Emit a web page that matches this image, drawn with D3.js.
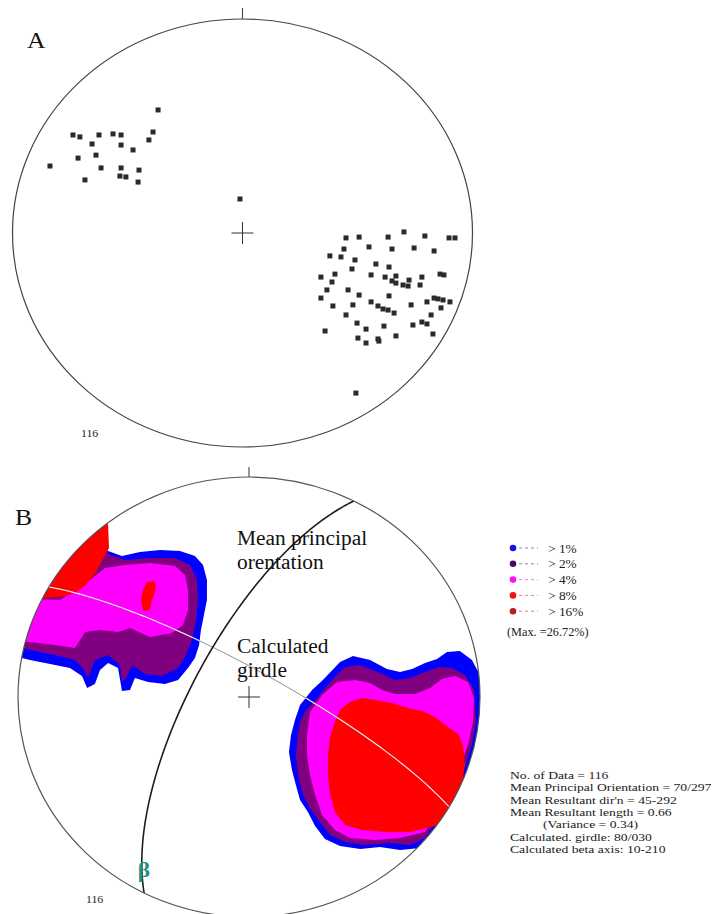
<!DOCTYPE html>
<html>
<head>
<meta charset="utf-8">
<script src="https://cdn.jsdelivr.net/npm/d3@7"></script>
<style>
  body { margin: 0; background: #fff; }
  svg { display: block; }
</style>
</head>
<body>
<script>
// ---------- Data ----------
// Poles on the upper net, in net units (east, north), net radius = 100
const poles = [
  [-36.7,57.5],[-73.7,45.8],[-70.7,44.9],[-62.4,45.8],[-56.3,46.3],[-52.8,45.8],[-38.9,47.2],
  [-40.7,43.5],[-65.4,41.6],[-52.8,41.1],[-47.6,38.8],[-71.5,35.0],[-63.7,36.4],[-83.7,31.3],
  [-61.5,30.4],[-52.8,30.4],[-45.0,29.4],[-53.3,26.6],[-50.7,26.2],[-68.5,24.8],[-45.4,23.8],
  [-1.1,15.9],[49.3,-74.8],
  [45.0,-2.3],[50.7,-1.9],[63.3,-1.9],[70.2,0.5],[79.3,-1.4],[89.8,-2.3],[92.4,-2.3],
  [44.1,-7.5],[55.0,-6.5],[65.0,-7.5],[74.6,-7.0],[83.3,-8.4],[38.0,-10.7],[42.8,-11.2],
  [48.9,-12.6],[58.0,-14.5],[47.6,-16.8],[63.7,-15.9],[40.2,-19.2],[55.9,-19.6],[62.0,-20.6],
  [66.7,-20.1],[78.0,-20.6],[85.9,-19.2],[87.6,-19.6],[34.1,-20.6],[38.9,-22.9],[65.0,-22.4],
  [66.7,-23.4],[72.4,-22.0],[69.8,-24.3],[72.0,-24.8],[77.2,-24.3],[36.7,-26.6],[45.9,-26.6],
  [50.7,-29.0],[63.7,-29.4],[34.1,-30.4],[55.9,-32.2],[58.9,-34.1],[61.1,-35.5],[63.3,-36.0],
  [65.9,-37.4],[48.0,-33.6],[39.3,-34.1],[73.3,-33.6],[80.2,-32.2],[83.3,-30.4],[85.0,-30.8],
  [87.2,-31.3],[90.2,-32.2],[86.3,-35.0],[45.0,-38.3],[82.0,-38.3],[49.8,-42.1],[78.0,-41.6],
  [80.2,-42.5],[74.1,-43.0],[61.5,-43.5],[53.7,-44.9],[35.9,-45.8],[82.8,-47.2],[66.7,-48.1],
  [50.2,-49.1],[58.9,-49.5],[59.3,-50.5],[53.7,-51.4]
];
const dataCount = 116;

// Density contour outlines on the lower net (net units), one list of rings per level
const over1Left = [[-64.5,80.5],[-61,66.4],[-55,64.1],[-47.2,65.9],[-38.5,66.8],[-29.9,66.4],[-23.4,64.1],[-19.9,60],[-18.2,53.2],[-18.2,44.1],[-19.5,37.3],[-20.8,30.5],[-21.6,23.6],[-23.4,17.7],[-26.4,13.2],[-30.7,7.7],[-36.4,5.9],[-43.7,6.8],[-49.4,8.6],[-51.5,3.2],[-55,2.7],[-56.7,13.2],[-61,15.5],[-64.5,12.3],[-66.7,5.9],[-70.1,4.1],[-72.3,9.5],[-77.5,13.2],[-86.1,15],[-94.8,16.8],[-103.5,19.1],[-107.8,44.1],[-90.5,62.3],[-73.2,75.9]];
const over1Right = [[22.1,-3.6],[27.3,3.2],[32,7.7],[39.4,15.9],[45,18.6],[52.4,16.8],[59.7,12.7],[65.4,11.4],[70.6,12.7],[76.2,15.5],[81.4,17.3],[85.7,20.5],[91.3,20.9],[96.5,16.8],[100,10],[108.7,3.2],[108.7,-46.8],[95.7,-74.1],[74,-68.6],[65.4,-69.5],[56.7,-68.2],[48.1,-69.1],[39.4,-67.7],[32.9,-64.5],[28.6,-58.6],[25.5,-52.3],[22.1,-46.8],[20.3,-40],[18.6,-33.2],[17.3,-25],[18.2,-17.3],[19.9,-10.5]];
const over2Left = [[-62.3,65.5],[-53.7,62.3],[-42.9,63.2],[-32,63.2],[-25.5,60],[-22.5,53.2],[-22.1,44.1],[-22.9,35],[-24.7,25.9],[-27.3,19.1],[-30.7,13.2],[-37.7,9.5],[-45,10.5],[-50.6,14.5],[-53.2,8.6],[-55,6.8],[-55.8,14.5],[-61,19.1],[-66.7,16.8],[-69.7,8.6],[-71.4,12.3],[-75.3,16.8],[-84,19.1],[-94.8,21.4],[-107.8,25.9],[-107.8,48.6],[-81.8,53.2],[-66.7,62.3]];
const over2Right = [[24.2,-6.8],[29.9,0],[35.9,7.7],[41.6,13.6],[48.1,14.5],[55.8,11.4],[63.2,7.7],[69.7,8.6],[76.2,11.4],[82.7,13.6],[87.9,13.2],[93.5,10],[97.4,3.2],[98.3,-10.5],[96.5,-21.8],[92.2,-35.5],[84.8,-50.5],[76.2,-64.1],[69.7,-67.3],[61,-66.4],[50.2,-67.3],[41.6,-65.9],[35.1,-62.7],[30.7,-56.8],[26.4,-50.5],[23.4,-44.5],[21.2,-35.5],[20.3,-26.4],[21.2,-17.3],[22.1,-11.4]];
const over4Left = [[-81.8,44.1],[-68.8,53.2],[-62.3,58.6],[-53.7,60],[-42.9,60.9],[-32,59.5],[-27.7,55.5],[-26.4,48.6],[-26.4,39.5],[-28.6,32.7],[-33.3,29.1],[-42.9,27.3],[-51.5,31.4],[-56.7,29.5],[-64.5,30.5],[-71,29.5],[-75.3,22.3],[-84,23.6],[-94.8,25],[-107.8,25.9],[-107.8,45]];
const over4Right = [[26.4,-6.8],[31.6,0.9],[38.1,6.8],[45.9,7.7],[52.4,6.4],[57.6,3.2],[63.2,1.4],[71.9,1.4],[78.4,4.1],[83.5,8.2],[89.2,9.5],[94.8,6.8],[97.4,-0.5],[97,-11.4],[94.8,-21.8],[90.5,-34.1],[83.5,-49.1],[76.2,-61.4],[65.4,-64.1],[54.5,-65],[43.7,-64.1],[37.2,-60.5],[31.6,-53.6],[28.6,-44.5],[26.4,-35.5],[25.1,-26.4],[25.1,-17.3]];
const over8Strip = [[-64.5,87.3],[-61,78.2],[-60.6,67.7],[-62.8,63.6],[-66.2,56.8],[-70.6,50.9],[-75.3,47.3],[-81.8,45.5],[-90.5,45],[-99.1,45],[-99.1,62.3],[-81.8,80.5]];
const over8Spot = [[-44.2,52.3],[-40.7,52.7],[-40.3,48.6],[-42,44.1],[-42.9,39.5],[-45.9,39.1],[-46.8,44.1],[-45.9,48.6]];
const over8Right = [[39.4,-5.9],[43.7,-2.3],[48.9,-0.5],[54.5,-1.4],[61.9,-2.7],[68.8,-5],[74.9,-6.4],[80.5,-9.1],[86.1,-13.6],[90.5,-16.8],[92.6,-21.8],[93.5,-30.9],[92.2,-40],[90.5,-46.8],[87,-53.6],[80.5,-58.6],[69.7,-61.4],[58.9,-61.4],[48.9,-60.5],[41.6,-58.2],[37.2,-52.3],[35.1,-44.5],[34.2,-35.5],[34.2,-26.4],[35.1,-18.2],[37.2,-11.4]];
const contourRings = [
  [over1Left, over1Right],
  [over2Left, over2Right],
  [over4Left, over4Right],
  [over8Strip, over8Spot, over8Right]
];
const levelLabels = ["> 1%", "> 2%", "> 4%", "> 8%", "> 16%"];
const maxLabel = "(Max. =26.72%)";

// Planes and axis (dip / dip direction, plunge / trend, degrees)
const girdlePlane = { dip: 80, dipDir: 30 };
const meanPlane = { dip: 70, dipDir: 297 };
const betaAxis = { plunge: 10, trend: 210 };

const statsLines = [
  "No. of Data = 116",
  "Mean Principal Orientation = 70/297",
  "Mean Resultant dir'n = 45-292",
  "Mean Resultant length = 0.66",
  "(Variance = 0.34)",
  "Calculated. girdle: 80/030",
  "Calculated beta axis: 10-210"
];

// ---------- Styles ----------
const fillColors = ["#0000ff", "#800080", "#ff00ff", "#ff0000", "#b00000"];
const dotColors  = ["#1414e6", "#4a0a60", "#f014f0", "#f01414", "#b41e1e"];
const serif = "'Liberation Serif','Times New Roman',serif";
const stretch = 1.07;

// ---------- Helpers ----------
const rad = Math.PI / 180;
function project(trend, plunge) {           // Schmidt (equal-area), lower hemisphere
  const r = 100 * Math.SQRT2 * Math.sin((90 - plunge) / 2 * rad);
  return [r * Math.sin(trend * rad), r * Math.cos(trend * rad)];
}
function planeTrace(p) {
  const a = p.dipDir * rad, d = p.dip * rad;
  const s = [Math.sin(a - Math.PI / 2), Math.cos(a - Math.PI / 2), 0];
  const dv = [Math.sin(a) * Math.cos(d), Math.cos(a) * Math.cos(d), Math.sin(d)];
  const pts = [];
  for (let t = 0; t <= 180; t += 1) {
    const c = Math.cos(t * rad), sn = Math.sin(t * rad);
    const v = [c * s[0] + sn * dv[0], c * s[1] + sn * dv[1], c * s[2] + sn * dv[2]];
    const plunge = Math.asin(Math.min(1, Math.max(-1, v[2]))) / rad;
    const trend = Math.atan2(v[0], v[1]) / rad;
    pts.push(project(trend, plunge));
  }
  return pts;
}
function label(g, x, y, s, size, fill, anchor, sx) {
  return g.append("text")
    .attr("transform", `translate(${x},${y}) scale(${sx || stretch},1)`)
    .attr("font-family", serif)
    .attr("font-size", size)
    .attr("fill", fill || "#111")
    .attr("text-anchor", anchor || "start")
    .text(s);
}

const svg = d3.select("body").append("svg")
  .attr("width", 714).attr("height", 914);
const defs = svg.append("defs");

// ---------- Upper net (A) ----------
const ax = d3.scaleLinear().domain([-100, 100]).range([12.5, 472.5]);
const ay = d3.scaleLinear().domain([-100, 100]).range([447, 19]);
const gA = svg.append("g");

gA.append("ellipse")
  .attr("cx", ax(0)).attr("cy", ay(0))
  .attr("rx", ax(100) - ax(0)).attr("ry", ay(0) - ay(100))
  .attr("fill", "none").attr("stroke", "#444").attr("stroke-width", 1.2);
gA.append("line")
  .attr("x1", ax(0)).attr("x2", ax(0)).attr("y1", ay(100)).attr("y2", ay(100) - 11)
  .attr("stroke", "#444").attr("stroke-width", 1.1);
gA.append("line").attr("x1", ax(0) - 11).attr("x2", ax(0) + 11)
  .attr("y1", ay(0)).attr("y2", ay(0)).attr("stroke", "#333").attr("stroke-width", 1);
gA.append("line").attr("x1", ax(0)).attr("x2", ax(0))
  .attr("y1", ay(0) - 11).attr("y2", ay(0) + 11).attr("stroke", "#333").attr("stroke-width", 1);

gA.selectAll("rect.pole").data(poles).join("rect")
  .attr("class", "pole")
  .attr("x", d => ax(d[0]) - 2.5).attr("y", d => ay(d[1]) - 2.5)
  .attr("width", 5).attr("height", 5)
  .attr("fill", "#2a2a2a");

label(gA, 27, 48, "A", 24, "#111");
label(gA, 81, 437, String(dataCount), 11, "#222");

// ---------- Lower net (B) ----------
const bx = d3.scaleLinear().domain([-100, 100]).range([18, 480]);
const by = d3.scaleLinear().domain([-100, 100]).range([917, 477]);
const gB = svg.append("g");

defs.append("clipPath").attr("id", "netClip").append("ellipse")
  .attr("cx", bx(0)).attr("cy", by(0))
  .attr("rx", bx(100) - bx(0)).attr("ry", by(0) - by(100));

const ring = d3.line().x(d => bx(d[0])).y(d => by(d[1])).curve(d3.curveLinearClosed);

const blobClip = defs.append("clipPath").attr("id", "blobClip");
contourRings[0].forEach(r => blobClip.append("path").attr("d", ring(r)));

const gC = gB.append("g").attr("clip-path", "url(#netClip)");
contourRings.forEach((rings, i) => {
  gC.append("g").selectAll("path").data(rings).join("path")
    .attr("d", ring)
    .attr("fill", fillColors[i]);
});

const trace = d3.line().x(d => bx(d[0])).y(d => by(d[1]));
const girdlePts = planeTrace(girdlePlane);
gC.append("path").attr("d", trace(girdlePts))
  .attr("fill", "none").attr("stroke", "#8a8a8a").attr("stroke-width", 1);
gC.append("g").attr("clip-path", "url(#blobClip)")
  .append("path").attr("d", trace(girdlePts))
  .attr("fill", "none").attr("stroke", "#f6e4ee").attr("stroke-width", 1.1);

gC.append("path").attr("d", trace(planeTrace(meanPlane)))
  .attr("fill", "none").attr("stroke", "#1e1e1e").attr("stroke-width", 1.6);

gB.append("ellipse")
  .attr("cx", bx(0)).attr("cy", by(0))
  .attr("rx", bx(100) - bx(0)).attr("ry", by(0) - by(100))
  .attr("fill", "none").attr("stroke", "#555").attr("stroke-width", 1.2);
gB.append("line")
  .attr("x1", bx(0)).attr("x2", bx(0)).attr("y1", by(100)).attr("y2", by(100) - 10)
  .attr("stroke", "#444").attr("stroke-width", 1.1);
gB.append("line").attr("x1", bx(0) - 11).attr("x2", bx(0) + 11)
  .attr("y1", by(0)).attr("y2", by(0)).attr("stroke", "#333").attr("stroke-width", 1);
gB.append("line").attr("x1", bx(0)).attr("x2", bx(0))
  .attr("y1", by(0) - 11).attr("y2", by(0) + 11).attr("stroke", "#333").attr("stroke-width", 1);

const beta = project(betaAxis.trend, betaAxis.plunge);
label(gB, bx(beta[0]), by(beta[1]) + 7, "β", 22, "#1f8f88", "middle")
  .attr("font-weight", "bold");

label(gB, 15, 525, "B", 24, "#111");
label(gB, 86, 903, String(dataCount), 11, "#222");

label(gB, 237, 545, "Mean principal", 20, "#111");
label(gB, 237, 569, "orentation", 20, "#111");
label(gB, 237, 653, "Calculated", 20, "#111");
label(gB, 237, 677, "girdle", 20, "#111");

// Legend
const gL = svg.append("g");
levelLabels.forEach((t, i) => {
  const y = 548 + i * 15.8;
  gL.append("circle").attr("cx", 513).attr("cy", y).attr("r", 3.3).attr("fill", dotColors[i]);
  gL.append("line").attr("x1", 519).attr("x2", 538).attr("y1", y).attr("y2", y)
    .attr("stroke", dotColors[i]).attr("stroke-opacity", 0.55)
    .attr("stroke-width", 1).attr("stroke-dasharray", "3,3");
  label(gL, 548, y + 4.5, t, 12.5, "#222");
});
label(gL, 507, 636, maxLabel, 11.5, "#222");

// Statistics block
statsLines.forEach((t, i) => {
  label(gL, i === 4 ? 543 : 510, 779 + i * 12.3, t, 11, "#1a1a1a", "start", 1.24);
});
</script>
</body>
</html>
